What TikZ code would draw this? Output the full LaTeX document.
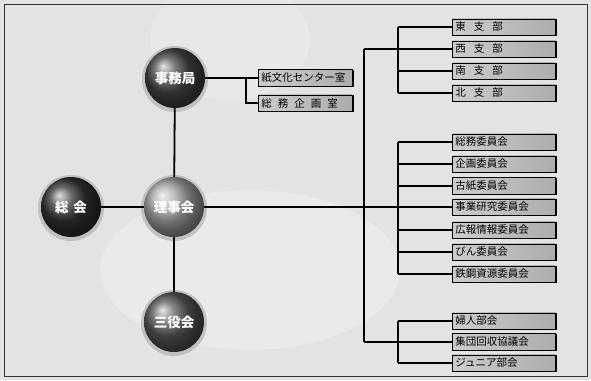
\documentclass[tikz,border=0pt]{standalone}
\usepackage{fontspec}
\newfontfamily\jp{Noto Sans CJK JP}
\begin{document}
\begin{tikzpicture}[x=1pt,y=-1pt,
  bubble/.style={circle, minimum size=60pt, inner sep=0pt, shading=ball,
    font=\jp\bfseries\fontsize{13.5}{14}\selectfont, text=white},
  halo/.style={fill=gray!55, opacity=0.8},
  unitbox/.style={draw=black, line width=0.6pt, minimum width=103pt, minimum height=16pt,
    left color=gray!40, right color=gray!65, anchor=west, text=black, inner xsep=3pt,
    text width=97pt, align=left, font=\jp\fontsize{10.5}{10.5}\selectfont},
  smallbox/.style={unitbox, minimum width=94pt, text width=88pt, minimum height=14pt},
  conn/.style={line width=1.8pt, black},
  edge3d/.style={line width=1.8pt, black}]
\useasboundingbox (0,0) rectangle (591,380);
% background
\fill[gray!22] (0,0) rectangle (591,380);
\fill[white, opacity=0.25] (250,270) ellipse (150pt and 80pt);
\fill[white, opacity=0.2] (230,40) ellipse (80pt and 60pt);
\draw[gray!40!black, line width=0.8pt] (4,4) rectangle (587,376);
% halos
\fill[halo] (175,79) circle (33pt);
\fill[halo] (71,208) circle (33pt);
\fill[halo] (174,208) circle (33pt);
\fill[halo] (174,323) circle (33pt);
% bubbles
\node[bubble, ball color=gray!55!black] (jim) at (175,78) {事務局};
\node[bubble, ball color=gray!40!black] (sokai) at (71,207) {総\hspace{5pt}会};
\node[bubble, ball color=gray!70] (rij) at (174,207) {理事会};
\node[bubble, ball color=gray!70!black] (san) at (174,322) {三役会};
% left boxes
\node[smallbox] (c1) at (258,78) {紙文化センター室};
\node[smallbox] (c2) at (258,103) {総\hspace{6pt}務\hspace{6pt}企\hspace{6pt}画\hspace{6pt}室};
% right boxes: top group
\node[unitbox] (t1) at (452,27) {東\hspace{8pt}支\hspace{8pt}部};
\node[unitbox] (t2) at (452,49) {西\hspace{8pt}支\hspace{8pt}部};
\node[unitbox] (t3) at (452,71) {南\hspace{8pt}支\hspace{8pt}部};
\node[unitbox] (t4) at (452,93) {北\hspace{8pt}支\hspace{8pt}部};
% middle group
\node[unitbox] (m1) at (452,142) {総務委員会};
\node[unitbox] (m2) at (452,164) {企画委員会};
\node[unitbox] (m3) at (452,186) {古紙委員会};
\node[unitbox] (m4) at (452,207) {事業研究委員会};
\node[unitbox] (m5) at (452,230) {広報情報委員会};
\node[unitbox] (m6) at (452,252) {びん委員会};
\node[unitbox] (m7) at (452,274) {鉄鋼資源委員会};
% bottom group
\node[unitbox] (u1) at (452,321) {婦人部会};
\node[unitbox] (u2) at (452,342) {集団回収協議会};
\node[unitbox] (u3) at (452,363) {ジュニア部会};
% 3d edges
\foreach \b in {c1,c2,t1,t2,t3,t4,m1,m2,m3,m4,m5,m6,m7,u1,u2,u3}
  \draw[edge3d] ([yshift=-0.5pt]\b.north east) -- (\b.south east) -- ([xshift=2pt]\b.south west);
% coordinates
\coordinate (lb) at (246,0);
\coordinate (br) at (398,0);
\coordinate (sp1) at (364,49);
\coordinate (sp2) at (364,342);
% connectors
\draw[conn] (jim) -- (rij);
\draw[conn] (sokai) -- (rij);
\draw[conn] (rij) -- (san);
\draw[conn] (jim) -- (c1.west);
\draw[conn] (c1.west -| lb) -- (c2.west -| lb) -- (c2.west);
\draw[conn] (rij) -- (m4.west);
\draw[conn] (sp1) -- (sp2);
\draw[conn] (sp1) -- (t2.west -| br);
\draw[conn] (sp2) -- (u2.west -| br);
\draw[conn] (t1.west -| br) -- (t4.west -| br);
\draw[conn] (m1.west -| br) -- (m7.west -| br);
\draw[conn] (u1.west -| br) -- (u3.west -| br);
\foreach \b in {t1,t2,t3,t4,m1,m2,m3,m4,m5,m6,m7,u1,u2,u3}
  \draw[conn] (\b.west -| br) -- (\b.west);
\end{tikzpicture}
\end{document}
